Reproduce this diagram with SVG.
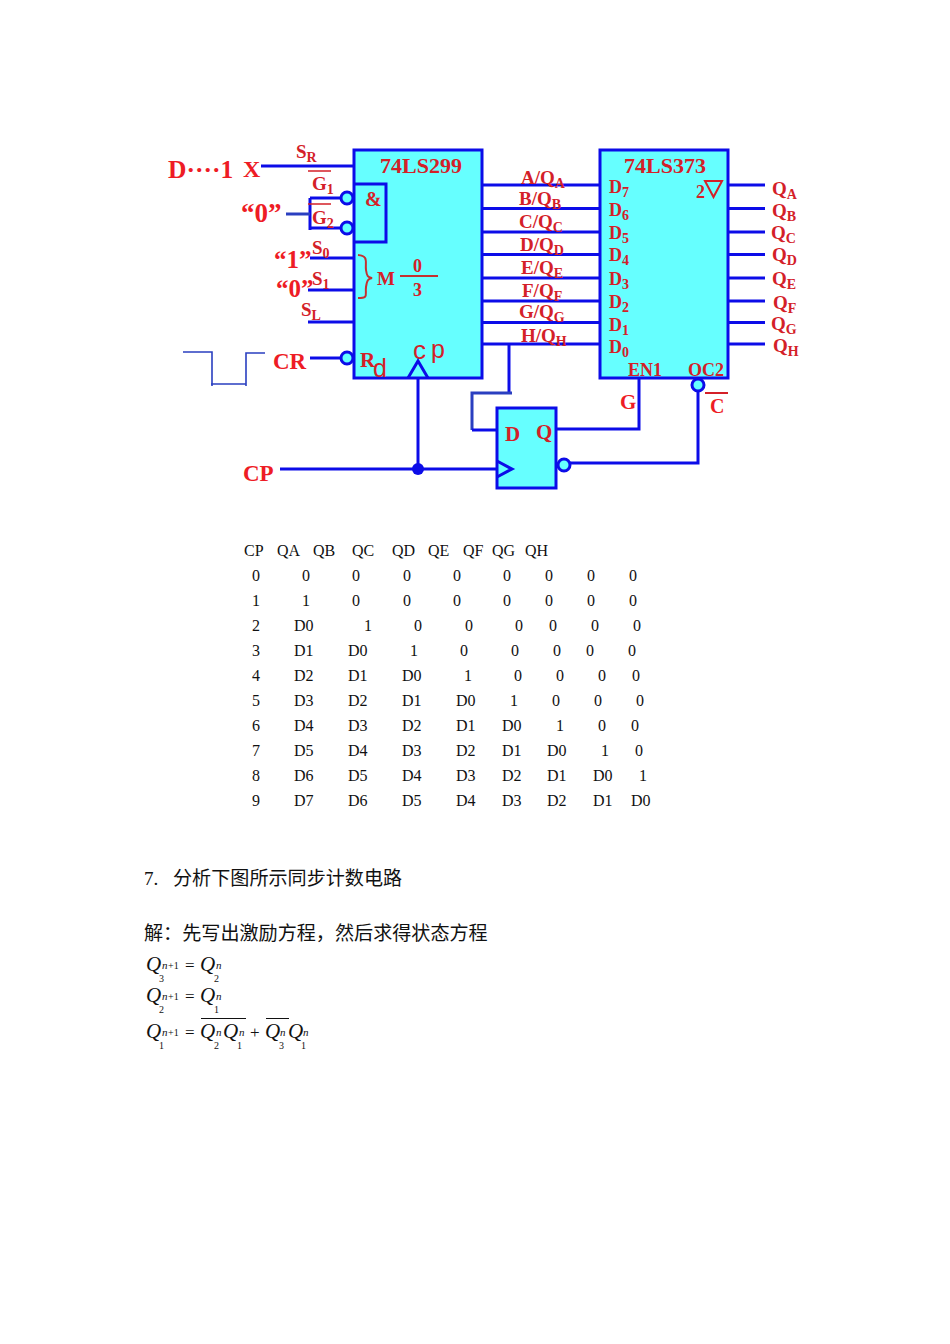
<svg xmlns="http://www.w3.org/2000/svg" width="950" height="1344" viewBox="0 0 950 1344">
<style>
.w{fill:none;stroke:#0c0ce8;stroke-width:3}
.t{fill:none;stroke:#2a3fc0;stroke-width:1.6}
.g{fill:none;stroke:#2a3fc0;stroke-width:3}
.b{fill:#66ffff;stroke:#0c0ce8;stroke-width:3}
.ci{fill:#66ffff;stroke:#0c0ce8;stroke-width:3}
.r{fill:#ee1c25;font-family:"Liberation Serif",serif;font-weight:bold}
.d{fill:#d42028;font-family:"Liberation Serif",serif;font-weight:bold}
.l{fill:none;stroke:#c43030;stroke-width:2}
.ln{fill:none;stroke:#d42028;stroke-width:1.4}
.tb{fill:#111;font-family:"Liberation Serif",serif;font-size:16px}
.cn{fill:#111;font-family:"Liberation Serif","Noto Sans CJK SC",serif;font-size:19.1px}
.q{fill:#111;font-family:"Liberation Serif",serif;font-size:21px;font-style:italic}
.n{fill:#111;font-family:"Liberation Serif",serif;font-size:11px;font-style:italic}
.u{fill:#111;font-family:"Liberation Serif",serif;font-size:10px}
.o{fill:#111;font-family:"Liberation Serif",serif;font-size:17px}
.bar{stroke:#111;stroke-width:1;fill:none}
tspan{font-size:14px}
</style>
<g id="chip-74ls299">
<rect class="b" x="354" y="150" width="128" height="228"/>
<path class="w" d="M354 184H386V242H354"/>
<text class="d" x="380" y="173" font-size="22">74LS299</text>
<text class="d" x="365" y="206" font-size="20">&amp;</text>
<path class="l" d="M358 255C369 256 365 262 366 270C367 277 368 277 372 278C368 279 367 280 366 287C365 295 369 298 358 298"/>
<text class="d" x="377" y="285" font-size="19">M</text>
<path class="l" d="M400 276H438"/>
<text class="d" x="413" y="272" font-size="18">0</text>
<text class="d" x="413" y="296" font-size="18">3</text>
<text x="360" y="367" font-size="21" fill="#d42028" font-family="Liberation Serif,serif" font-weight="bold">R</text>
<text x="373" y="377" font-size="25" fill="#d42028" font-family="Liberation Sans,sans-serif">d</text>
<text x="413" y="359" font-size="26" fill="#d42028" font-family="Liberation Sans,sans-serif">c</text>
<text x="431" y="358" font-size="25" fill="#d42028" font-family="Liberation Sans,sans-serif">p</text>
<path class="w" d="M408 378L418 361L428 378"/>
</g>
<g id="chip-74ls373">
<rect class="b" x="600" y="150" width="128" height="228"/>
<text class="d" x="624" y="173" font-size="22">74LS373</text>
<text class="d" x="696" y="198" font-size="18">2</text>
<path d="M705 181H722L713.500 197Z" fill="none" stroke="#d42028" stroke-width="2"/>
<g class="d" font-size="18">
<text x="609" y="193">D<tspan dy="4">7</tspan></text>
<text x="609" y="216">D<tspan dy="4">6</tspan></text>
<text x="609" y="239">D<tspan dy="4">5</tspan></text>
<text x="609" y="261">D<tspan dy="4">4</tspan></text>
<text x="609" y="285">D<tspan dy="4">3</tspan></text>
<text x="609" y="308">D<tspan dy="4">2</tspan></text>
<text x="609" y="331">D<tspan dy="4">1</tspan></text>
<text x="609" y="353">D<tspan dy="4">0</tspan></text>
<text x="628" y="376">EN1</text>
<text x="688" y="376">OC2</text>
</g>
</g>
<g id="flipflop">
<rect class="b" x="497" y="408" width="59" height="80"/>
<path class="w" d="M497 461L512 469L497 477"/>
<text class="d" x="505" y="441" font-size="21">D</text>
<text class="d" x="536" y="439" font-size="21">Q</text>
<circle class="ci" cx="564" cy="465" r="6"/>
</g>
<g id="connectors">
<path class="w" d="M261 166H354"/>
<path class="w" d="M310 198V230M310 198H342M310 228H342"/>
<path class="g" d="M286 214H310"/>
<path class="w" d="M310 258H354"/>
<path class="w" d="M308 290H354"/>
<path class="w" d="M308 322H354"/>
<path class="w" d="M310 358H342"/>
<path class="w" d="M482 185H600M482 208.500H600M482 232H600M482 254.500H600M482 278H600M482 301H600M482 322.500H600M482 344H600"/>
<path class="w" d="M728 185H765M728 208.500H765M728 232H765M728 254.500H765M728 278H765M728 301H765M728 322.500H765M728 344H765"/>
<path class="w" d="M509 343V392"/>
<path class="g" d="M512 393H472V430"/>
<path class="w" d="M472 430H497"/>
<path class="w" d="M280 469H497"/>
<path class="w" d="M418 378V469"/>
<circle cx="418" cy="469" r="6" fill="#0c0ce8"/>
<path class="w" d="M556 429H639V378"/>
<path class="w" d="M569 463H698V391"/>
<path class="t" d="M183 352H212V386M211 384H246M246 386V353H265"/>
</g>
<g id="bubbles">
<circle class="ci" cx="347" cy="198" r="6"/>
<circle class="ci" cx="347" cy="228" r="6"/>
<circle class="ci" cx="347" cy="358" r="6"/>
<circle class="ci" cx="698" cy="385" r="6"/>
</g>
<g id="inputs">
<text class="r" x="168" y="178" font-size="25.500">D····1</text>
<text class="r" x="243" y="177" font-size="24">X</text>
<g class="d" font-size="19">
<text x="296" y="158">S<tspan dy="4">R</tspan></text>
<text x="312" y="190">G<tspan dy="4">1</tspan></text>
<text x="312" y="224">G<tspan dy="4">2</tspan></text>
<text x="312" y="254">S<tspan dy="4">0</tspan></text>
<text x="312" y="285">S<tspan dy="4">1</tspan></text>
<text x="301" y="316">S<tspan dy="4">L</tspan></text>
</g>
<path class="ln" d="M308 171H331M308 204H331"/>
<text class="r" x="241" y="222" font-size="27">“0”</text>
<text class="r" x="274" y="268" font-size="25">“1”</text>
<text class="r" x="276" y="297" font-size="25">“0”</text>
<text class="r" x="273" y="369" font-size="23">CR</text>
<text class="r" x="243" y="481" font-size="23">CP</text>
<text class="r" x="620" y="409" font-size="21">G</text>
<path d="M705 393H728" stroke="#d42028" stroke-width="2"/>
<text class="r" x="710" y="413" font-size="20">C</text>
</g>
<g id="io-labels" class="d" font-size="19">
<text x="521" y="184">A/Q<tspan dy="4">A</tspan></text>
<text x="519" y="205">B/Q<tspan dy="4">B</tspan></text>
<text x="519" y="228">C/Q<tspan dy="4">C</tspan></text>
<text x="520" y="251">D/Q<tspan dy="4">D</tspan></text>
<text x="521" y="274">E/Q<tspan dy="4">E</tspan></text>
<text x="522" y="297">F/Q<tspan dy="4">F</tspan></text>
<text x="519" y="318">G/Q<tspan dy="4">G</tspan></text>
<text x="521" y="342">H/Q<tspan dy="4">H</tspan></text>
<text x="772" y="195">Q<tspan dy="4">A</tspan></text>
<text x="772" y="217">Q<tspan dy="4">B</tspan></text>
<text x="771" y="239">Q<tspan dy="4">C</tspan></text>
<text x="772" y="261">Q<tspan dy="4">D</tspan></text>
<text x="772" y="285">Q<tspan dy="4">E</tspan></text>
<text x="773" y="309">Q<tspan dy="4">F</tspan></text>
<text x="771" y="330">Q<tspan dy="4">G</tspan></text>
<text x="773" y="352">Q<tspan dy="4">H</tspan></text>
</g>
<g id="table" class="tb">
<text x="244" y="556">CP</text><text x="277" y="556">QA</text><text x="313" y="556">QB</text><text x="352" y="556">QC</text><text x="392" y="556">QD</text><text x="428" y="556">QE</text><text x="463" y="556">QF</text><text x="492" y="556">QG</text><text x="525" y="556">QH</text>
<text x="252" y="581">0</text><text x="302" y="581">0</text><text x="352" y="581">0</text><text x="403" y="581">0</text><text x="453" y="581">0</text><text x="503" y="581">0</text><text x="545" y="581">0</text><text x="587" y="581">0</text><text x="629" y="581">0</text>
<text x="252" y="606">1</text><text x="302" y="606">1</text><text x="352" y="606">0</text><text x="403" y="606">0</text><text x="453" y="606">0</text><text x="503" y="606">0</text><text x="545" y="606">0</text><text x="587" y="606">0</text><text x="629" y="606">0</text>
<text x="252" y="631">2</text><text x="294" y="631">D0</text><text x="364" y="631">1</text><text x="414" y="631">0</text><text x="465" y="631">0</text><text x="515" y="631">0</text><text x="549" y="631">0</text><text x="591" y="631">0</text><text x="633" y="631">0</text>
<text x="252" y="656">3</text><text x="294" y="656">D1</text><text x="348" y="656">D0</text><text x="410" y="656">1</text><text x="460" y="656">0</text><text x="511" y="656">0</text><text x="553" y="656">0</text><text x="586" y="656">0</text><text x="628" y="656">0</text>
<text x="252" y="681">4</text><text x="294" y="681">D2</text><text x="348" y="681">D1</text><text x="402" y="681">D0</text><text x="464" y="681">1</text><text x="514" y="681">0</text><text x="556" y="681">0</text><text x="598" y="681">0</text><text x="632" y="681">0</text>
<text x="252" y="706">5</text><text x="294" y="706">D3</text><text x="348" y="706">D2</text><text x="402" y="706">D1</text><text x="456" y="706">D0</text><text x="510" y="706">1</text><text x="552" y="706">0</text><text x="594" y="706">0</text><text x="636" y="706">0</text>
<text x="252" y="731">6</text><text x="294" y="731">D4</text><text x="348" y="731">D3</text><text x="402" y="731">D2</text><text x="456" y="731">D1</text><text x="502" y="731">D0</text><text x="556" y="731">1</text><text x="598" y="731">0</text><text x="631" y="731">0</text>
<text x="252" y="756">7</text><text x="294" y="756">D5</text><text x="348" y="756">D4</text><text x="402" y="756">D3</text><text x="456" y="756">D2</text><text x="502" y="756">D1</text><text x="547" y="756">D0</text><text x="601" y="756">1</text><text x="635" y="756">0</text>
<text x="252" y="781">8</text><text x="294" y="781">D6</text><text x="348" y="781">D5</text><text x="402" y="781">D4</text><text x="456" y="781">D3</text><text x="502" y="781">D2</text><text x="547" y="781">D1</text><text x="593" y="781">D0</text><text x="639" y="781">1</text>
<text x="252" y="806">9</text><text x="294" y="806">D7</text><text x="348" y="806">D6</text><text x="402" y="806">D5</text><text x="456" y="806">D4</text><text x="502" y="806">D3</text><text x="547" y="806">D2</text><text x="593" y="806">D1</text><text x="631" y="806">D0</text>
</g>
<g id="prose">
<text class="cn" x="144" y="885">7.</text>
<text class="cn" x="173" y="885">分析下图所示同步计数电路</text>
<text class="cn" x="144" y="940">解：先写出激励方程，然后求得状态方程</text>
</g>
<g id="equations">
<text class="q" x="146" y="971">Q</text><text class="n" x="162" y="969">n</text><text class="u" x="168" y="969">+1</text><text class="u" x="159" y="982">3</text><text class="o" x="185" y="971">=</text><text class="q" x="200" y="971">Q</text><text class="n" x="216" y="969">n</text><text class="u" x="214" y="982">2</text>
<text class="q" x="146" y="1002">Q</text><text class="n" x="162" y="1000">n</text><text class="u" x="168" y="1000">+1</text><text class="u" x="159" y="1013">2</text><text class="o" x="185" y="1002">=</text><text class="q" x="200" y="1002">Q</text><text class="n" x="216" y="1000">n</text><text class="u" x="214" y="1013">1</text>
<text class="q" x="146" y="1038">Q</text><text class="n" x="162" y="1036">n</text><text class="u" x="168" y="1036">+1</text><text class="u" x="159" y="1049">1</text><text class="o" x="185" y="1038">=</text>
<text class="q" x="200" y="1038">Q</text><text class="n" x="216" y="1036">n</text><text class="u" x="214" y="1049">2</text>
<text class="q" x="223" y="1038">Q</text><text class="n" x="239" y="1036">n</text><text class="u" x="237" y="1049">1</text>
<text class="o" x="250" y="1038">+</text>
<text class="q" x="265" y="1038">Q</text><text class="n" x="280" y="1036">n</text><text class="u" x="279" y="1049">3</text>
<text class="q" x="288" y="1038">Q</text><text class="n" x="303" y="1036">n</text><text class="u" x="301" y="1049">1</text>
<path class="bar" d="M201 1018.500H223M223 1018.500H246M266 1018.500H289"/>
</g>
</svg>
